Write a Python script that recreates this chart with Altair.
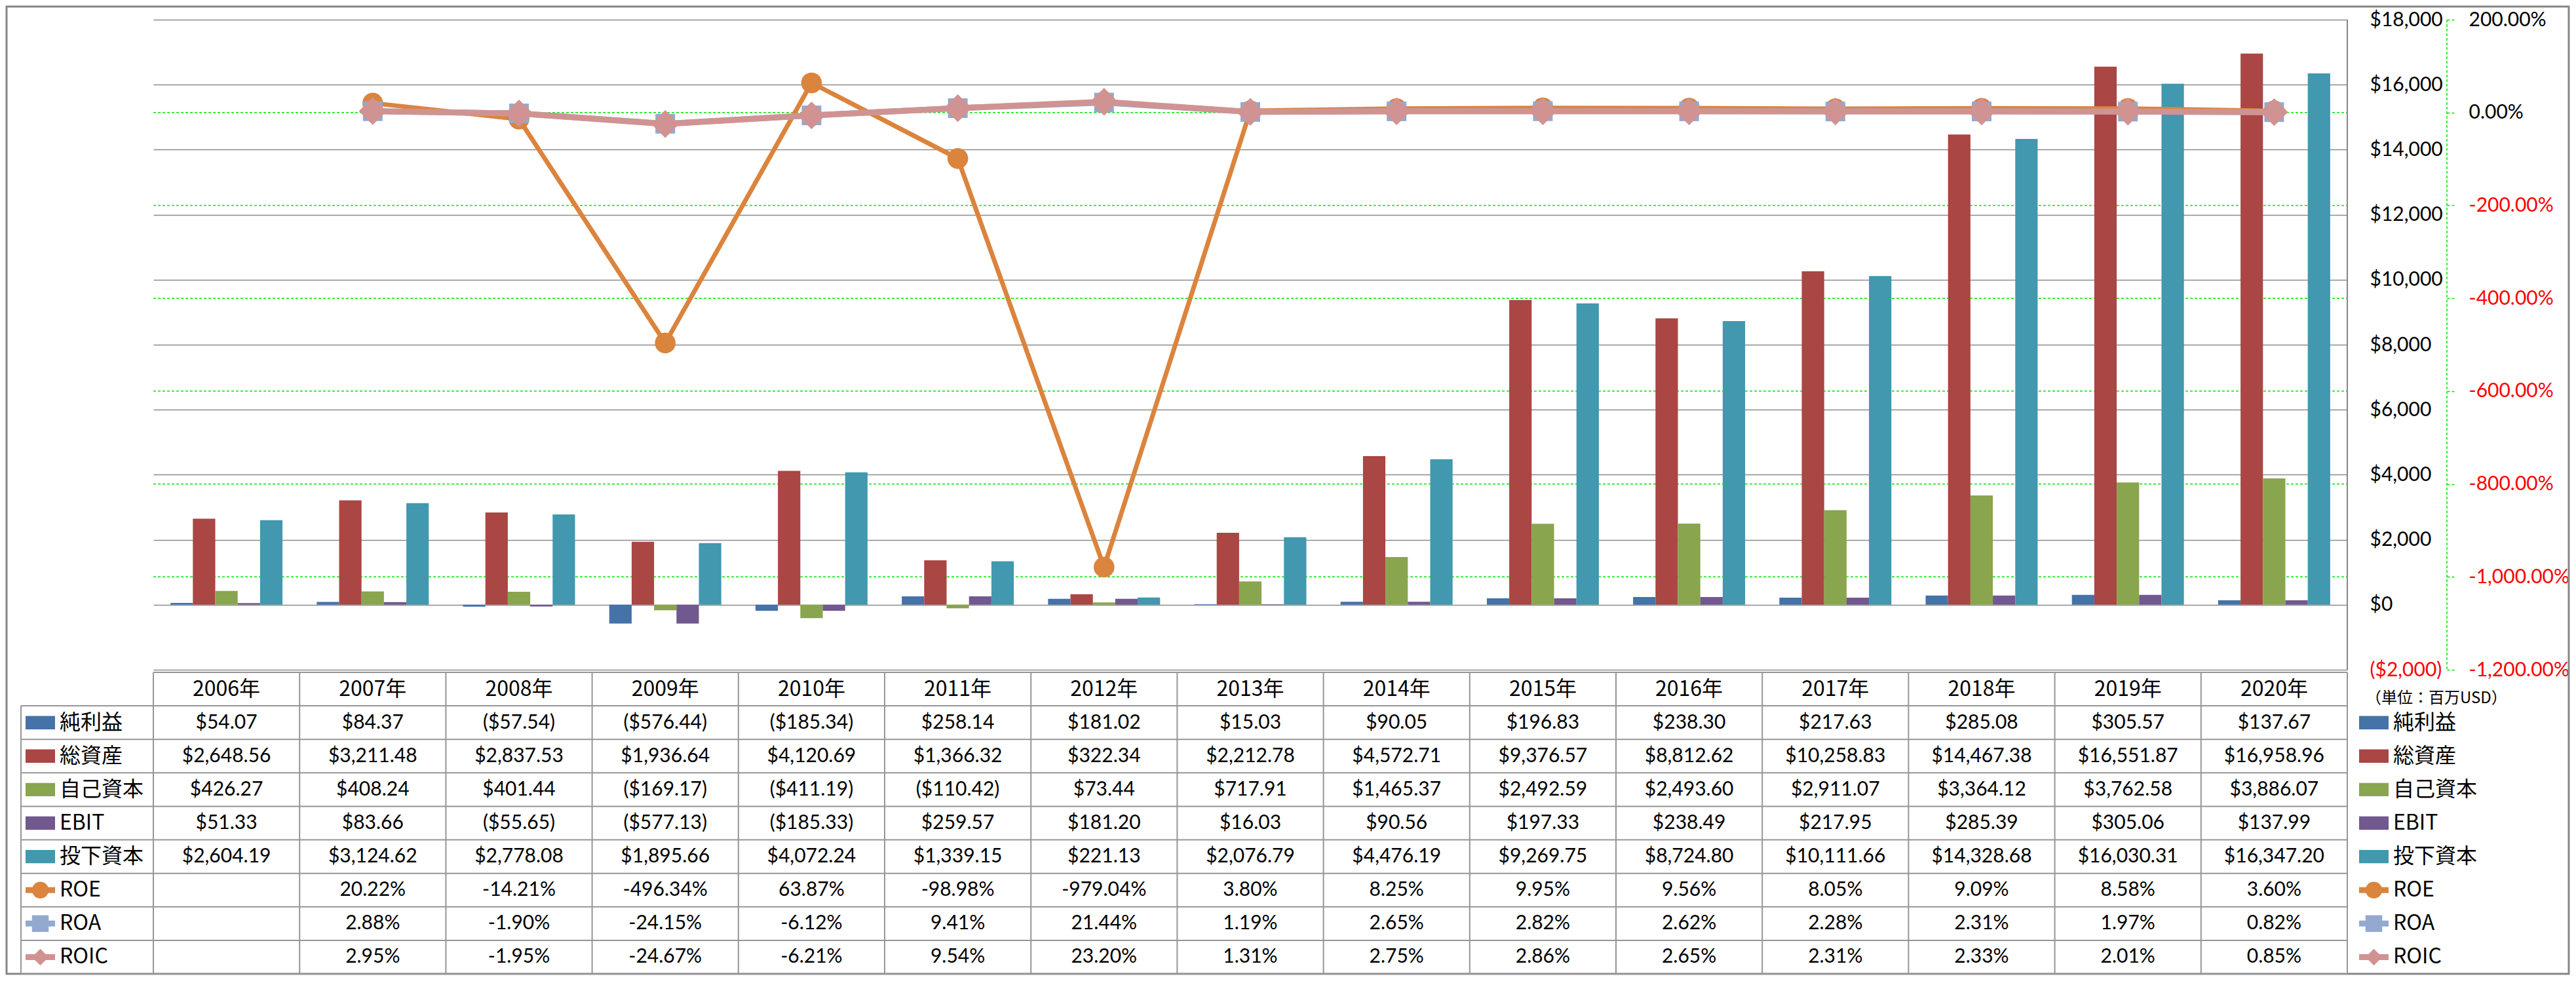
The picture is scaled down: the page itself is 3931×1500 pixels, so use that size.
import altair as alt
import pandas as pd

# ---------------- data ----------------
years = ["2006年", "2007年", "2008年", "2009年", "2010年", "2011年", "2012年", "2013年",
         "2014年", "2015年", "2016年", "2017年", "2018年", "2019年", "2020年"]

bar_series = ["純利益", "総資産", "自己資本", "EBIT", "投下資本"]
bar_colors = ["#4572A7", "#AA4643", "#89A54E", "#71588F", "#4198AF"]

net_income = [54.07, 84.37, -57.54, -576.44, -185.34, 258.14, 181.02, 15.03, 90.05,
              196.83, 238.30, 217.63, 285.08, 305.57, 137.67]
total_assets = [2648.56, 3211.48, 2837.53, 1936.64, 4120.69, 1366.32, 322.34, 2212.78,
                4572.71, 9376.57, 8812.62, 10258.83, 14467.38, 16551.87, 16958.96]
equity = [426.27, 408.24, 401.44, -169.17, -411.19, -110.42, 73.44, 717.91, 1465.37,
          2492.59, 2493.60, 2911.07, 3364.12, 3762.58, 3886.07]
ebit = [51.33, 83.66, -55.65, -577.13, -185.33, 259.57, 181.20, 16.03, 90.56, 197.33,
        238.49, 217.95, 285.39, 305.06, 137.99]
invested = [2604.19, 3124.62, 2778.08, 1895.66, 4072.24, 1339.15, 221.13, 2076.79,
            4476.19, 9269.75, 8724.80, 10111.66, 14328.68, 16030.31, 16347.20]

line_series = ["ROE", "ROA", "ROIC"]
line_colors = ["#DB843D", "#93A9CF", "#D19392"]
roe = [None, 20.22, -14.21, -496.34, 63.87, -98.98, -979.04, 3.80, 8.25, 9.95, 9.56,
       8.05, 9.09, 8.58, 3.60]
roa = [None, 2.88, -1.90, -24.15, -6.12, 9.41, 21.44, 1.19, 2.65, 2.82, 2.62, 2.28,
       2.31, 1.97, 0.82]
roic = [None, 2.95, -1.95, -24.67, -6.21, 9.54, 23.20, 1.31, 2.75, 2.86, 2.65, 2.31,
        2.33, 2.01, 0.85]

usd_ticks = [-2000, 0, 2000, 4000, 6000, 8000, 10000, 12000, 14000, 16000, 18000]
pct_ticks = [-1200, -1000, -800, -600, -400, -200, 0, 200]
pct_grid = [-1000, -800, -600, -400, -200, 0]
unit_label = "（単位：百万USD）"

bar_values = [net_income, total_assets, equity, ebit, invested]
line_values = [roe, roa, roic]

# ---------------- layout / style constants ----------------
W, H_PLOT, H_TAB = 3348, 992, 460
PCT_OFFSET = 152
NUM_FONT = "Lato"
JP_FONT = "Noto Sans CJK JP"
GRID_GRAY = "#8C8C8C"
LINE_GRAY = "#969696"
GREEN = "#00E600"
DASH = [4, 3]
line_widths = [7, 9, 9]
line_shapes = ["circle", "square", "diamond"]
line_sizes = [1000, 900, 1800]

# ---------------- tables ----------------
bars_df = pd.DataFrame([
    {"year": y, "series": s, "value": v}
    for s, vals in zip(bar_series, bar_values)
    for y, v in zip(years, vals)
])

def usd(v):
    return f"(${abs(v):,.2f})" if v < 0 else f"${v:,.2f}"

def pct(v):
    return "" if v is None else f"{v:.2f}%"

# ---------------- top chart ----------------
x_enc = alt.X("year:N", sort=years,
              scale=alt.Scale(domain=years, paddingInner=0.234, paddingOuter=0.117),
              axis=None)

usd_axis = alt.Axis(
    orient="right", values=usd_ticks, title=None,
    labelExpr="datum.value < 0 ? '($' + format(-datum.value, ',') + ')' : '$' + format(datum.value, ',')",
    labelColor={"condition": {"test": "datum.value < 0", "value": "#FF0000"}, "value": "#000000"},
    labelFont=NUM_FONT, labelFontSize=30, labelAlign="left", labelBaseline="middle",
    labelPadding=34, ticks=False, tickSize=0, labelOverlap=False,
    domain=False,
    grid=True, gridColor=GRID_GRAY, gridWidth=1.5,
)

pct_axis = alt.Axis(
    orient="right", offset=PCT_OFFSET, values=pct_ticks, title=None,
    labelExpr="(datum.value < 0 ? '-' : '') + format(abs(datum.value), ',.2f') + '%'",
    labelColor={"condition": {"test": "datum.value < 0", "value": "#FF0000"}, "value": "#000000"},
    labelFont=NUM_FONT, labelFontSize=30, labelAlign="left", labelBaseline="middle",
    labelPadding=21, labelOverlap=False,
    ticks=True, tickSize=12, tickColor=GREEN, tickDash=DASH, tickWidth=1.5,
    domain=False, grid=False,
)

usd_scale = alt.Scale(domain=[-2000, 18000], nice=False)
pct_scale = alt.Scale(domain=[-1200, 200], nice=False)

one = pd.DataFrame({"k": [0]})

frame = alt.Chart(one).mark_rect(
    fillOpacity=0, stroke="#868686", strokeWidth=3
).encode(
    x=alt.value(-224), x2=alt.value(3686), y=alt.value(-20), y2=alt.value(H_PLOT + 4 + H_TAB)
)

# dashed green gridlines of the percentage scale (drawn behind the bars)
pct_grid_layer = alt.Chart(pd.DataFrame({"v": pct_grid})).mark_rule(
    color=GREEN, strokeWidth=1.5, strokeDash=DASH
).encode(
    y=alt.Y("v:Q", scale=pct_scale, axis=None), x=alt.value(0), x2=alt.value(W)
)

bars = alt.Chart(bars_df).mark_bar().encode(
    x=x_enc,
    xOffset=alt.XOffset("series:N", sort=bar_series,
                        scale=alt.Scale(domain=bar_series, paddingInner=0, paddingOuter=0)),
    y=alt.Y("value:Q", scale=usd_scale, axis=usd_axis),
    color=alt.Color("series:N", scale=alt.Scale(domain=bar_series, range=bar_colors), legend=None),
)

line_layers = []
for j, (s, vals, c, w, shp, sz) in enumerate(zip(line_series, line_values, line_colors,
                                                 line_widths, line_shapes, line_sizes)):
    df = pd.DataFrame([{"year": y, "value": v} for y, v in zip(years, vals) if v is not None])
    ax = pct_axis if j == 0 else None
    line_layers.append(alt.Chart(df).mark_line(color=c, strokeWidth=w).encode(
        x=x_enc, y=alt.Y("value:Q", scale=pct_scale, axis=ax)))
    line_layers.append(alt.Chart(df).mark_point(
        shape=shp, size=sz, filled=True, color=c, opacity=1).encode(
        x=x_enc, y=alt.Y("value:Q", scale=pct_scale, axis=None)))

# right border of the plot area
edge = alt.Chart(one).mark_rule(color="#868686", strokeWidth=2).encode(
    x=alt.value(W), y=alt.value(0), y2=alt.value(H_PLOT)
)
# dashed line of the percentage axis
pct_line = alt.Chart(one).mark_rule(color=GREEN, strokeWidth=1.5, strokeDash=DASH).encode(
    x=alt.value(W + PCT_OFFSET), y=alt.value(0), y2=alt.value(H_PLOT)
)

top = alt.layer(frame, pct_grid_layer, bars, *line_layers, edge, pct_line).resolve_scale(
    y="independent").properties(width=W, height=H_PLOT)

# ---------------- data table ----------------
xt = alt.Scale(domain=[0, 15], nice=False, zero=False)
yt = alt.Scale(domain=[0, 9], nice=False, zero=False, reverse=True)
LEFT = -202 / 223.2

vlines = pd.DataFrame([{"c": i, "r0": 0, "r1": 9} for i in range(16)] +
                      [{"c": LEFT, "r0": 1, "r1": 9}])
hlines = pd.DataFrame([{"r": 0, "c0": 0, "c1": 15}] +
                      [{"r": k, "c0": LEFT, "c1": 15} for k in range(1, 10)])

header_df = pd.DataFrame([{"c": i + 0.5, "r": 0.5, "t": y} for i, y in enumerate(years)])
cells = []
for k, vals in enumerate(bar_values):
    for i, v in enumerate(vals):
        cells.append({"c": i + 0.5, "r": k + 1.5, "t": usd(v)})
for k, vals in enumerate(line_values):
    for i, v in enumerate(vals):
        cells.append({"c": i + 0.5, "r": k + 6.5, "t": pct(v)})
cells_df = pd.DataFrame(cells)

# legend entries: left (table row headers) and right (legend)
sides = [(-195 / 223.2, -150 / 223.2, -143 / 223.2), (15 + 18 / 223.2, 15 + 63 / 223.2, 15 + 70 / 223.2)]
names = bar_series + line_series
lab_rows = []
for c1, c2, ct in sides:
    for k, n in enumerate(names):
        lab_rows.append({"c1": c1, "c2": c2, "cm": (c1 + c2) / 2, "ct": ct, "r": k + 1.5,
                         "ra": k + 1.5 - 0.2, "rb": k + 1.5 + 0.2, "t": n})
lab_df = pd.DataFrame(lab_rows)

X = lambda f: alt.X(f, type="quantitative", scale=xt, axis=None)
Y = lambda f: alt.Y(f, type="quantitative", scale=yt, axis=None)

tab_layers = [
    alt.Chart(vlines).mark_rule(color=LINE_GRAY, strokeWidth=2).encode(
        x=X("c"), y=Y("r0"), y2="r1"),
    alt.Chart(hlines).mark_rule(color=LINE_GRAY, strokeWidth=2).encode(
        y=Y("r"), x=X("c0"), x2="c1"),
    alt.Chart(header_df).mark_text(font=JP_FONT, fontSize=32, color="black",
                                   align="center", baseline="middle").encode(
        x=X("c"), y=Y("r"), text="t:N"),
    alt.Chart(cells_df).mark_text(font=NUM_FONT, fontSize=30, color="black",
                                  align="center", baseline="middle").encode(
        x=X("c"), y=Y("r"), text="t:N"),
    alt.Chart(lab_df).mark_text(font=JP_FONT, fontSize=32, color="black",
                                align="left", baseline="middle").encode(
        x=X("ct"), y=Y("r"), text="t:N"),
]
for n, c in zip(bar_series, bar_colors):
    tab_layers.append(
        alt.Chart(lab_df[lab_df.t == n]).mark_rect(color=c).encode(
            x=X("c1"), x2="c2", y=Y("ra"), y2="rb"))
for n, c, shp in zip(line_series, line_colors, line_shapes):
    sub = lab_df[lab_df.t == n]
    tab_layers.append(
        alt.Chart(sub).mark_rule(color=c, strokeWidth=9).encode(
            x=X("c1"), x2="c2", y=Y("r")))
    tab_layers.append(
        alt.Chart(sub).mark_point(shape=shp, size=650, filled=True, color=c, opacity=1).encode(
            x=X("cm"), y=Y("r")))

unit_df = pd.DataFrame([{"c": 15 + 28 / 223.2, "r": 0.78, "t": unit_label}])
tab_layers.append(
    alt.Chart(unit_df).mark_text(font=JP_FONT, fontSize=24, color="black",
                                 align="left", baseline="middle").encode(
        x=X("c"), y=Y("r"), text="t:N"))

table = alt.layer(*tab_layers).properties(width=W, height=H_TAB)

chart = alt.vconcat(top, table, spacing=4, bounds="flush").resolve_scale(
    x="independent", y="independent"
).configure_view(strokeWidth=0).properties(padding=0)

chart.save("out.html", embed_options={"renderer": "svg", "actions": False})
